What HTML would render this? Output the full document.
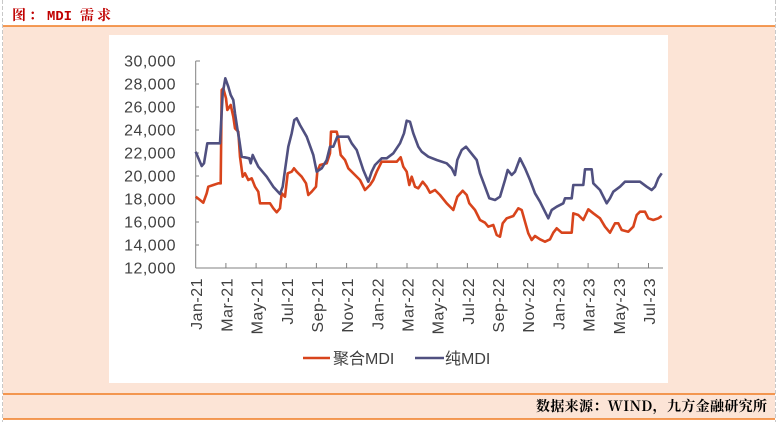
<!DOCTYPE html>
<html>
<head>
<meta charset="utf-8">
<style>
html,body{margin:0;padding:0;background:#fff;}
svg{display:block;}
</style>
</head>
<body>
<svg width="779" height="422" viewBox="0 0 779 422" xmlns="http://www.w3.org/2000/svg">
  <rect x="0" y="0" width="779" height="422" fill="#ffffff"/>
  <!-- peach background -->
  <rect x="3" y="26" width="772" height="393" fill="#fce4d6"/>
  <!-- orange lines -->
  <line x1="3" y1="26" x2="775" y2="26" stroke="#f07c22" stroke-width="1.5"/>
  <line x1="3" y1="394" x2="775" y2="394" stroke="#f07c22" stroke-width="1.5"/>
  <line x1="3" y1="419" x2="775" y2="419" stroke="#f07c22" stroke-width="1.5"/>
  <!-- dashed side borders -->
  <line x1="2.5" y1="0" x2="2.5" y2="422" stroke="#c8c8c8" stroke-width="1" stroke-dasharray="4,2"/>
  <line x1="775.5" y1="0" x2="775.5" y2="422" stroke="#c8c8c8" stroke-width="1" stroke-dasharray="4,2"/>

  <!-- title -->
  <g font-family="'Noto Serif CJK SC','Liberation Serif',serif" font-weight="bold" font-size="14" fill="#c00000">
    <text x="12" y="20">图</text>
    <text x="29" y="20">：</text>
    <text x="47" y="20" font-family="'Liberation Mono','Noto Serif CJK SC',monospace" textLength="25" lengthAdjust="spacingAndGlyphs">MDI</text>
    <text x="80" y="20" letter-spacing="3">需求</text>
  </g>

  <!-- chart panel -->
  <rect x="109" y="35" width="559" height="348" fill="#ffffff"/>

  <!-- axes -->
  <g stroke="#808080" stroke-width="1" fill="none">
    <line x1="195.7" y1="61" x2="195.7" y2="268"/>
    <line x1="195.7" y1="268" x2="663" y2="268"/>
    <line x1="195.7" y1="61" x2="200" y2="61"/>
    <line x1="195.7" y1="84" x2="199" y2="84"/>
    <line x1="195.7" y1="107" x2="199" y2="107"/>
    <line x1="195.7" y1="130" x2="199" y2="130"/>
    <line x1="195.7" y1="153" x2="199" y2="153"/>
    <line x1="195.7" y1="176" x2="199" y2="176"/>
    <line x1="195.7" y1="199" x2="199" y2="199"/>
    <line x1="195.7" y1="222" x2="199" y2="222"/>
    <line x1="195.7" y1="245" x2="199" y2="245"/>
    <line x1="225.9" y1="268" x2="225.9" y2="263"/>
    <line x1="256.1" y1="268" x2="256.1" y2="263"/>
    <line x1="286.3" y1="268" x2="286.3" y2="263"/>
    <line x1="316.4" y1="268" x2="316.4" y2="263"/>
    <line x1="346.6" y1="268" x2="346.6" y2="263"/>
    <line x1="376.8" y1="268" x2="376.8" y2="263"/>
    <line x1="407.0" y1="268" x2="407.0" y2="263"/>
    <line x1="437.2" y1="268" x2="437.2" y2="263"/>
    <line x1="467.4" y1="268" x2="467.4" y2="263"/>
    <line x1="497.6" y1="268" x2="497.6" y2="263"/>
    <line x1="527.7" y1="268" x2="527.7" y2="263"/>
    <line x1="557.9" y1="268" x2="557.9" y2="263"/>
    <line x1="588.1" y1="268" x2="588.1" y2="263"/>
    <line x1="618.3" y1="268" x2="618.3" y2="263"/>
    <line x1="648.5" y1="268" x2="648.5" y2="263"/>
  </g>

  <!-- y labels -->
  <g font-family="'Liberation Sans',sans-serif" font-size="16" fill="#404040" text-anchor="end" letter-spacing="0.5">
    <text x="176" y="66.5">30,000</text>
    <text x="176" y="89.5">28,000</text>
    <text x="176" y="112.5">26,000</text>
    <text x="176" y="135.5">24,000</text>
    <text x="176" y="158.5">22,000</text>
    <text x="176" y="181.5">20,000</text>
    <text x="176" y="204.5">18,000</text>
    <text x="176" y="227.5">16,000</text>
    <text x="176" y="250.5">14,000</text>
    <text x="176" y="273.5">12,000</text>
  </g>

  <!-- x labels -->
  <g font-family="'Liberation Sans',sans-serif" font-size="16" fill="#404040" text-anchor="end" letter-spacing="0.5">
    <text transform="translate(202.2,278) rotate(-90)">Jan-21</text>
    <text transform="translate(232.4,278) rotate(-90)">Mar-21</text>
    <text transform="translate(262.6,278) rotate(-90)">May-21</text>
    <text transform="translate(292.8,278) rotate(-90)">Jul-21</text>
    <text transform="translate(322.9,278) rotate(-90)">Sep-21</text>
    <text transform="translate(353.1,278) rotate(-90)">Nov-21</text>
    <text transform="translate(383.3,278) rotate(-90)">Jan-22</text>
    <text transform="translate(413.5,278) rotate(-90)">Mar-22</text>
    <text transform="translate(443.7,278) rotate(-90)">May-22</text>
    <text transform="translate(473.9,278) rotate(-90)">Jul-22</text>
    <text transform="translate(504.1,278) rotate(-90)">Sep-22</text>
    <text transform="translate(534.2,278) rotate(-90)">Nov-22</text>
    <text transform="translate(564.4,278) rotate(-90)">Jan-23</text>
    <text transform="translate(594.6,278) rotate(-90)">Mar-23</text>
    <text transform="translate(624.8,278) rotate(-90)">May-23</text>
    <text transform="translate(655.0,278) rotate(-90)">Jul-23</text>
  </g>

  <!-- red series 聚合MDI -->
  <polyline fill="none" stroke="#d8441c" stroke-width="2.6" stroke-linejoin="round" points="
195.7,196.7 200,200 203.3,202.7 206.7,193.3 208.3,186.7 213.3,185 218.3,183.3 220.7,183.3 221.7,90 223.3,88.3 226,98.3 227.3,110 230.7,105 233.3,116.7 235,128.3 238.3,131.7 240,156.7 242.7,176.7 245,173.3 248.3,180 251.7,178.3 255,186.7 258.3,191.7 260,203.3 270,203.3 273.3,208.3 276.7,212.3 280,208.3 281.7,193.3 285,196.7 287.7,173.3 291.7,171.7 294,168.3 296.7,171.7 301.7,176.7 306,183.3 308.3,195 311.7,191.7 316,186.7 317.3,171.7 320,165 326.7,163.3 330,153.3 331,131.7 336.7,131.7 338.3,138.3 340.7,155 345,160 348.3,168.3 355,175 360,180 365,190 370,185 373.3,180 376.7,171.7 381.7,161.7 386.7,161.7 396.7,161.7 400.7,157.3 403.3,166.7 406.7,171.7 409.3,185 411.7,176.7 415,186.7 418.3,188.3 422.7,181.7 426.7,186.7 430,192.7 435,190 440,195 446.7,203.3 453.3,210 457.3,196.7 462.7,190.7 466.7,195 469.3,203.3 475,210 480,220 485,222.7 488.3,226.7 493.3,225 496.7,235 500,236.7 502.7,223.3 506.7,218.3 513.3,216 518.3,208.3 521.7,210 525,221.7 528.3,233.3 531.7,240 535,236 540,239.3 545,241.7 550,239.3 553.3,232.7 556.7,228.3 561.7,232.7 571.7,232.7 573.3,213.3 578.3,215 583.3,220 588.3,209.3 593.3,213.3 600,218.3 605,226.7 610,232.7 615,223.3 618.3,223.3 621.7,230 628.3,231.7 633.3,226.7 636.7,215 640,211.7 645,211.7 648.3,218.3 653.3,220 658.3,218.3 661.7,216"/>

  <!-- purple series 纯MDI -->
  <polyline fill="none" stroke="#505080" stroke-width="2.6" stroke-linejoin="round" points="
195.7,151.7 198.3,158 201.7,166 204,163.3 207.3,143.3 220,143.3 222.7,93.3 225.3,78.3 228.3,86.7 230.7,95 233.3,100 235,113.3 237.3,128.3 239.3,140 241.7,156.7 249.3,158.3 250.7,163.3 252.7,155 255,160 258.3,166.7 266.7,176.7 273.3,186.7 280,194 282.7,186.7 285,170 288.3,146.7 291.7,133.3 294.3,120 296.7,118.3 300,125 306.7,136.7 313.3,155 316.7,171.7 321.7,168.3 326.7,160 330,146.7 333.3,146.7 337.3,136.7 348.3,136.7 351.7,143.3 356.7,150 363.3,170 368.3,181.7 371.7,171.7 375,165 381.7,158.3 386.7,158.3 393.3,153.3 400,143.3 404,133.3 406.7,120.7 410,121.7 413.3,133.3 418.3,146.7 421.7,151.7 428.3,156.7 436.7,160 446.7,163.3 451.7,168.3 455,175 457.3,160 461.7,150 466,146.7 470,151.7 476.7,160 480,173.3 485,186.7 489.3,198.3 495,200 500,196.7 505,180 507.7,170 511.7,175 515,171.7 520,158.3 525,168.3 530,180 535,193.3 540,201.7 543.3,208.3 548.3,218.3 551.7,210 556.7,206.7 563.3,203.3 565,198.3 571.7,198.3 573.3,185 583.3,185 585,169.3 591.7,169.3 593.3,183.3 600,190 606.7,203.3 610,198.3 613.3,191.7 620,186.7 625,181.7 640,181.7 646.7,186.7 651.7,190 655,186.7 658.3,178.3 661.7,173.3"/>

  <!-- legend -->
  <line x1="303" y1="358" x2="330" y2="358" stroke="#d8441c" stroke-width="2.6"/>
  <text x="333" y="364" font-family="'Liberation Sans','Noto Sans CJK SC',sans-serif" font-size="16" fill="#404040">聚合MDI</text>
  <line x1="415" y1="358" x2="444" y2="358" stroke="#505080" stroke-width="2.6"/>
  <text x="445" y="364" font-family="'Liberation Sans','Noto Sans CJK SC',sans-serif" font-size="16" fill="#404040">纯MDI</text>

  <!-- source -->
  <text x="536" y="411" font-family="'Noto Serif CJK SC','Liberation Serif',serif" font-weight="bold" font-size="14" fill="#000000" textLength="231" lengthAdjust="spacing">数据来源：WIND，九方金融研究所</text>
</svg>
</body>
</html>
